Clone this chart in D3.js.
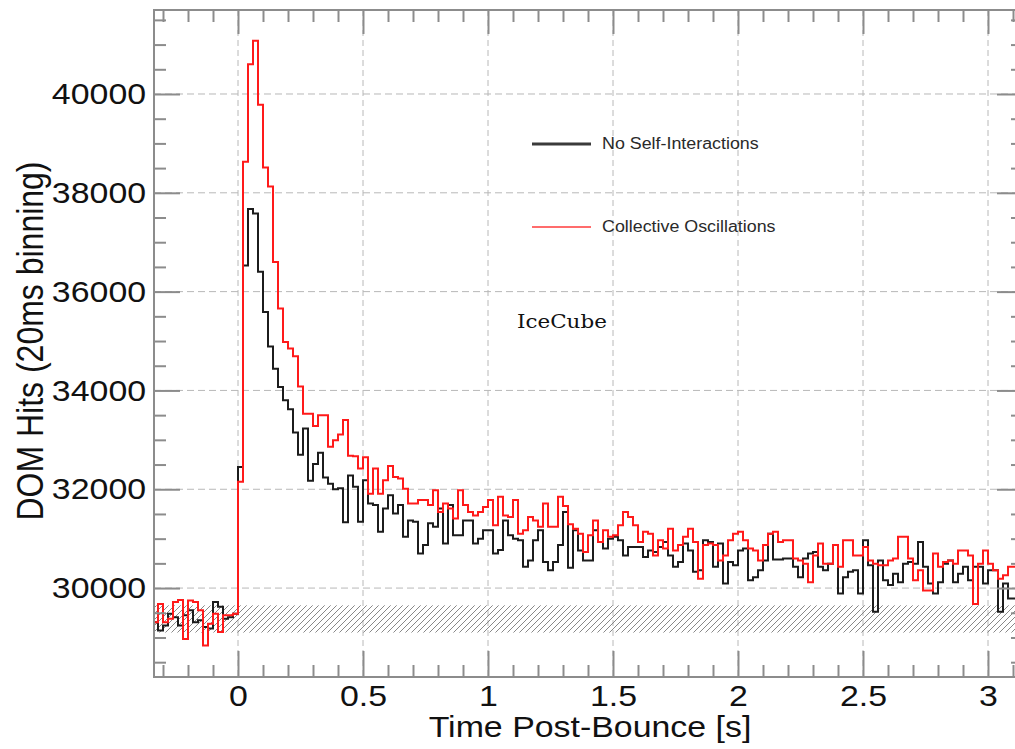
<!DOCTYPE html>
<html>
<head>
<meta charset="utf-8">
<script src="https://cdn.jsdelivr.net/npm/d3@7"></script>
<style>
  body { margin: 0; background: #fff; }
  text { font-family: "Liberation Sans", Arial, sans-serif; }
</style>
</head>
<body>
<svg id="canvas"></svg>
<script>
// Time bins (20 ms each), first bin starts at -0.34 s.
var binStart = -0.34;
var binWidth = 0.02;

// DOM hits per bin, no self-interactions (black).
var noSelfHits = [
  29310, 29140, 29240, 29480, 29410, 29240, 29450, 29550, 29310, 29350, 29210, 29180, 29720, 29620, 29380, 29410, 29480,
  32450, 36530, 37670, 37580, 36400, 35590, 34890, 34440, 34070, 33800, 33620, 33150, 32700, 33230, 32170, 32510, 32740, 32240, 32110, 32000, 32020, 31330, 32280,
  32050, 31340, 32180, 31710, 31680, 31140, 31610, 31880, 31510, 31680, 31040, 31370, 31340, 30700, 30870, 31310, 31240, 31610, 30900, 31680, 31070, 31070,
  31370, 31370, 30900, 31000, 31170, 31170, 30700, 30770, 31370, 31070, 31000, 30970, 30430, 30560, 30970, 31170, 30530, 30360, 30530, 30870, 31540, 30410,
  31170, 30760, 30560, 30560, 31170, 30930, 30800, 31000, 31040, 30970, 30660, 30830, 30830, 30830, 30630, 30760, 30730, 30830, 30930, 30660, 30430, 30530,
  30900, 30760, 30330, 30360, 30970, 30930, 30430, 30900, 30090, 30530, 30460, 30760, 30800, 30160, 30220, 30360, 30560, 31100, 30580, 30580, 30600, 30600,
  30430, 30220, 30600, 30700, 30730, 30430, 30360, 30490, 30870, 29890, 30220, 30330, 30360, 29890, 30970, 30460, 29520, 30560, 30160, 30060, 30290, 30120,
  30490, 30530, 30490, 30930, 30430, 30090, 29890, 30120, 30490, 30560, 30120, 30290, 30430, 30160, 30430, 30430, 30090, 30360, 30360, 29520, 30090, 29790, 29790
];

// DOM hits per bin, collective oscillations (red).
var collectiveHits = [
  29310, 29680, 29310, 29380, 29720, 29760, 28970, 29750, 29720, 29550, 28840, 29280, 29480, 29110, 29450, 29450, 29480,
  32150, 38630, 40600, 41080, 39780, 38510, 38130, 36600, 35660, 34980, 34850, 34690, 34080, 33530, 33530, 33280, 33500, 33500, 32860, 32990, 33110, 33400, 32680,
  32670, 32420, 32650, 31910, 32420, 31910, 32180, 32470, 32250, 32220, 32010, 31710, 31710, 31780, 31780, 31680, 31980, 31540, 31710, 31610, 31410, 31980,
  31680, 31540, 31470, 31540, 31640, 31780, 31270, 31850, 31470, 31440, 31780, 31100, 31170, 31440, 31370, 31240, 31710, 31240, 31240, 31850, 31660, 31290,
  31200, 31100, 30730, 31070, 31370, 30930, 31170, 31040, 31070, 31270, 31540, 31440, 31270, 30930, 31140, 31100, 30660, 30970, 30800, 31200, 30760, 30870,
  31040, 31200, 30930, 30190, 30870, 30900, 30870, 30560, 30660, 30970, 31100, 31140, 30970, 30800, 30760, 30560, 30870, 31100, 31140, 30930, 30970, 30970,
  30600, 30560, 30490, 30120, 30660, 30900, 30490, 30490, 30870, 30430, 30970, 30970, 30660, 30660, 30830, 30560, 30490, 30460, 30460, 30560, 30600, 31040,
  31040, 30600, 30160, 30360, 29950, 29950, 30700, 30430, 30530, 30560, 30490, 30760, 30760, 30660, 29680, 30490, 30760, 30490, 30360, 30190, 30260, 30430, 30430
];

// Tick values and labels.
var xMajorTicks = [0, 0.5, 1, 1.5, 2, 2.5, 3];
var xMinorTicks = [-0.3, -0.2, -0.1, 0.1, 0.2, 0.3, 0.4, 0.6, 0.7, 0.8, 0.9, 1.1, 1.2, 1.3, 1.4, 1.6, 1.7, 1.8, 1.9, 2.1, 2.2, 2.3, 2.4, 2.6, 2.7, 2.8, 2.9, 3.1];
var yMajorTicks = [30000, 32000, 34000, 36000, 38000, 40000];
var yMinorTicks = [28500, 29000, 29500, 30500, 31000, 31500, 32500, 33000, 33500, 34500, 35000, 35500, 36500, 37000, 37500, 38500, 39000, 39500, 40500, 41000, 41500];

// Hatched band limits.
var bandLow = 29100;
var bandHigh = 29650;

// Legend entries.
var legendLabels = ['No Self-Interactions', 'Collective Oscillations'];
var legendColors = ['#3a3a3a', '#ff3b3b'];

// Canvas dimensions.
var canvasWidth = 1015;
var canvasHeight = 749;

// Plot frame.
var plotLeft = 154, plotRight = 1023, plotTop = 10, plotBottom = 677;

// Horizontal text stretch seen in the picture.
var stretch = 1.13;

var svg = d3.select('#canvas')
            .attr('width', canvasWidth)
            .attr('height', canvasHeight);

var xScale = d3.scaleLinear().domain([-0.336, 3.14]).range([plotLeft, plotRight]);
var yScale = d3.scaleLinear().domain([28200, 41700]).range([plotBottom, plotTop]);

// Clip to the plot frame.
svg.append('clipPath').attr('id', 'plot-clip')
   .append('rect')
   .attr('x', plotLeft).attr('y', plotTop)
   .attr('width', plotRight - plotLeft).attr('height', plotBottom - plotTop);

// Hatch pattern for the background band.
var pattern = svg.append('defs').append('pattern')
                 .attr('id', 'hatch')
                 .attr('patternUnits', 'userSpaceOnUse')
                 .attr('width', 6).attr('height', 6);
pattern.append('path')
       .attr('d', 'M-1,1 l2,-2 M0,6 l6,-6 M5,7 l2,-2')
       .attr('stroke', '#7a7a7a')
       .attr('stroke-width', 0.9);

// Dashed grid.
var grid = svg.append('g').attr('clip-path', 'url(#plot-clip)');
grid.selectAll('.vgrid').data(xMajorTicks).enter().append('line')
    .attr('x1', function(d) { return xScale(d); })
    .attr('x2', function(d) { return xScale(d); })
    .attr('y1', plotTop).attr('y2', plotBottom)
    .attr('stroke', '#b8b8b8').attr('stroke-width', 1)
    .attr('stroke-dasharray', '6,4');
grid.selectAll('.hgrid').data(yMajorTicks).enter().append('line')
    .attr('y1', function(d) { return yScale(d); })
    .attr('y2', function(d) { return yScale(d); })
    .attr('x1', plotLeft).attr('x2', plotRight)
    .attr('stroke', '#b8b8b8').attr('stroke-width', 1)
    .attr('stroke-dasharray', '7,4');

// Hatched band.
svg.append('rect')
   .attr('clip-path', 'url(#plot-clip)')
   .attr('x', plotLeft).attr('width', plotRight - plotLeft)
   .attr('y', yScale(bandHigh))
   .attr('height', yScale(bandLow) - yScale(bandHigh))
   .attr('fill', 'url(#hatch)');

// Step lines.
var makePoints = function(values) {
  var pts = values.map(function(v, i) { return [binStart + i * binWidth, v]; });
  pts.push([binStart + values.length * binWidth, values[values.length - 1]]);
  return pts;
};
var stepLine = d3.line()
                 .x(function(d) { return xScale(d[0]); })
                 .y(function(d) { return yScale(d[1]); })
                 .curve(d3.curveStepAfter);

var lines = svg.append('g').attr('clip-path', 'url(#plot-clip)');
lines.append('path')
     .attr('d', stepLine(makePoints(noSelfHits)))
     .attr('fill', 'none').attr('stroke', '#1c1c1c').attr('stroke-width', 2);
lines.append('path')
     .attr('d', stepLine(makePoints(collectiveHits)))
     .attr('fill', 'none').attr('stroke', '#ff1a1a').attr('stroke-width', 2);

// Axes with inward ticks on all four sides.
var axisColor = '#8c8c8c';
var drawAxis = function(axis, tx, ty) {
  var g = svg.append('g').attr('transform', 'translate(' + tx + ',' + ty + ')').call(axis);
  g.select('.domain').remove();
  g.selectAll('line').attr('stroke', axisColor).attr('stroke-width', 2);
  g.selectAll('text').attr('fill', '#111').style('font-size', '30px')
   .attr('transform', 'scale(' + stretch + ',1)');
  return g;
};
var noLabel = function() { return ''; };

drawAxis(d3.axisBottom(xScale).tickValues(xMajorTicks).tickSize(-26).tickPadding(8)
           .tickFormat(function(d) { return String(d); }), 0, plotBottom);
drawAxis(d3.axisBottom(xScale).tickValues(xMinorTicks).tickSize(-12).tickFormat(noLabel), 0, plotBottom);
drawAxis(d3.axisTop(xScale).tickValues(xMajorTicks).tickSize(-24).tickFormat(noLabel), 0, plotTop);
drawAxis(d3.axisTop(xScale).tickValues(xMinorTicks).tickSize(-12).tickFormat(noLabel), 0, plotTop);

drawAxis(d3.axisLeft(yScale).tickValues(yMajorTicks).tickSize(-26).tickPadding(7)
           .tickFormat(d3.format('d')), plotLeft, 0);
drawAxis(d3.axisLeft(yScale).tickValues(yMinorTicks).tickSize(-12).tickFormat(noLabel), plotLeft, 0);
drawAxis(d3.axisRight(yScale).tickValues(yMajorTicks).tickSize(-26).tickFormat(noLabel), plotRight, 0);
drawAxis(d3.axisRight(yScale).tickValues(yMinorTicks).tickSize(-12).tickFormat(noLabel), plotRight, 0);

// Frame.
svg.append('rect')
   .attr('x', plotLeft).attr('y', plotTop)
   .attr('width', plotRight - plotLeft).attr('height', plotBottom - plotTop)
   .attr('fill', 'none').attr('stroke', axisColor).attr('stroke-width', 2);

// Axis titles.
svg.append('text')
   .attr('transform', 'translate(590,737) scale(' + stretch + ',1)')
   .attr('text-anchor', 'middle')
   .style('font-size', '30px').attr('fill', '#111')
   .text('Time Post-Bounce [s]');
svg.append('text')
   .attr('transform', 'translate(43,341) rotate(-90) scale(1,' + stretch + ')')
   .attr('text-anchor', 'middle')
   .style('font-size', '32px').attr('fill', '#111')
   .text('DOM Hits (20ms binning)');

// Legend.
var legendY = [144, 227];
var legend = svg.selectAll('.legend').data(legendLabels).enter().append('g')
                .attr('transform', function(d, i) { return 'translate(532,' + legendY[i] + ')'; });
legend.append('line')
      .attr('x1', 0).attr('x2', 59).attr('y1', 0).attr('y2', 0)
      .attr('stroke', function(d, i) { return legendColors[i]; })
      .attr('stroke-width', function(d, i) { return i === 0 ? 3 : 1.6; });
legend.append('text')
      .attr('transform', 'translate(70,5) scale(' + stretch + ',1)')
      .style('font-size', '15.8px').attr('fill', '#2a2a2a')
      .text(function(d) { return d; });

// Detector label.
svg.append('text')
   .attr('transform', 'translate(517,328) scale(' + stretch + ',1)')
   .style('font-family', '"DejaVu Serif", serif')
   .style('font-size', '19px').attr('fill', '#111')
   .text('IceCube');
</script>
</body>
</html>
